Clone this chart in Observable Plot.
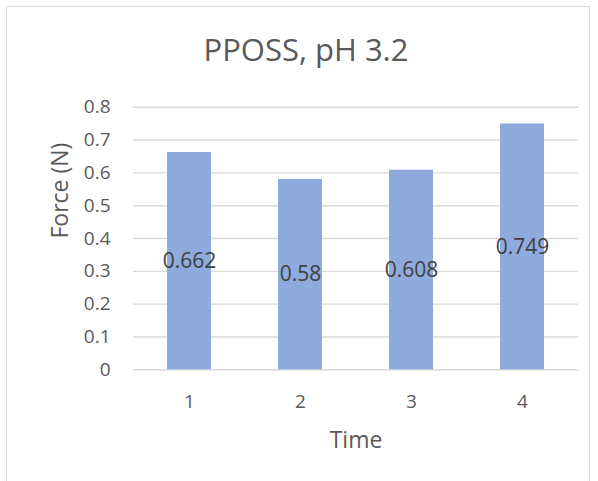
<!DOCTYPE html>
<html>
<head>
<meta charset="utf-8">
<script src="https://cdn.jsdelivr.net/npm/d3@7"></script>
<script src="https://cdn.jsdelivr.net/npm/@observablehq/plot@0.6"></script>
<style>
  html, body { margin: 0; padding: 0; background: #fff; }
  #wrap { position: relative; width: 598px; height: 481px; overflow: hidden; }
  #frame { position: absolute; left: 6px; top: 6px; width: 584px; height: 490px; border: 1.5px solid #d9d9d9; box-sizing: border-box; }
  #chart { position: absolute; left: 0; top: 0; }
</style>
</head>
<body>
<div id="wrap"><div id="frame"></div><div id="chart"></div></div>
<script>
const title = "PPOSS, pH 3.2";
const times = ["1", "2", "3", "4"];
const forces = [0.662, 0.58, 0.608, 0.749];
const yTicks = [0, 0.1, 0.2, 0.3, 0.4, 0.5, 0.6, 0.7, 0.8];
const xLabel = "Time";
const yLabel = "Force (N)";

const data = times.map((t, i) => ({time: t, force: forces[i]}));
const font = "'Open Sans', sans-serif";

const chart = Plot.plot({
  width: 598,
  height: 481,
  marginLeft: 133,
  marginRight: 20,
  marginTop: 106.7,
  marginBottom: 111.7,
  style: {fontFamily: font, background: "transparent", overflow: "visible"},
  x: {domain: times, paddingInner: 0.6, paddingOuter: 0.3, label: null},
  y: {domain: [0, 0.8], label: null},
  marks: [
    Plot.gridY(yTicks, {stroke: "#d9d9d9", strokeOpacity: 1, strokeWidth: 1.4}),
    Plot.barY(data, {x: "time", y: "force", fill: "#8faadc"}),
    Plot.axisY(yTicks, {tickSize: 0, tickPadding: 23, fontSize: 19, fill: "#595959", tickFormat: d => String(d), label: null}),
    Plot.axisX({tickSize: 0, tickPadding: 25, fontSize: 19, fill: "#595959", label: null}),
    Plot.text(data, {x: "time", y: d => d.force / 2, text: d => String(d.force), fontSize: 21, fill: "#404040", lineAnchor: "middle"}),
    Plot.text([xLabel], {frameAnchor: "bottom", text: d => d, dy: 70.7, fontSize: 23, fill: "#595959", lineAnchor: "middle"}),
    Plot.text([yLabel], {frameAnchor: "left", text: d => d, dx: -72.5, rotate: -90, fontSize: 23, fill: "#595959", lineAnchor: "middle"}),
    Plot.text([title], {frameAnchor: "top", text: d => d, dx: -50, dy: -55.7, fontSize: 31, fill: "#595959", lineAnchor: "middle"})
  ]
});
document.getElementById("chart").appendChild(chart);
</script>
</body>
</html>
